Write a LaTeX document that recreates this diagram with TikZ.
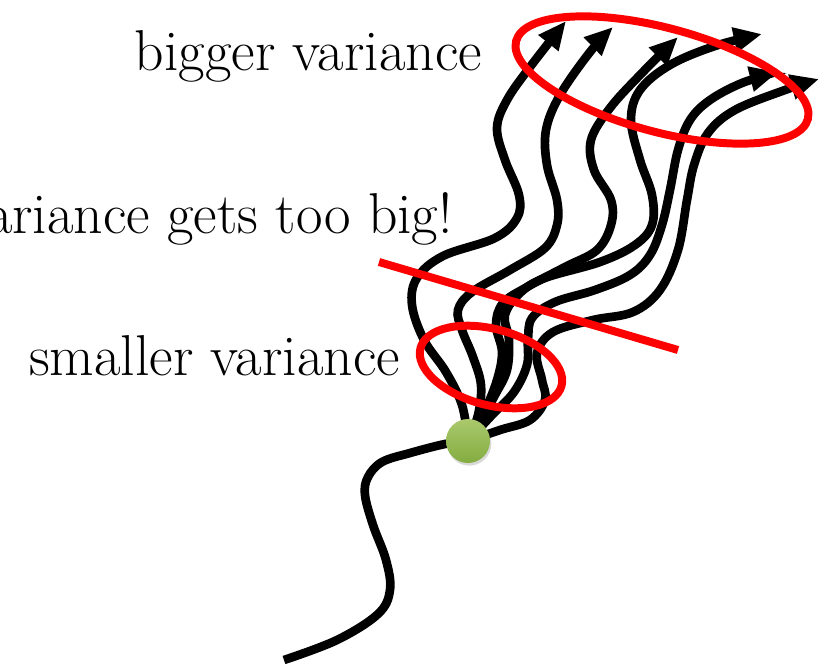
\documentclass[tikz,border=0pt]{standalone}
\usepackage{fontspec}
\usetikzlibrary{arrows.meta}
\usetikzlibrary{shadows}
\definecolor{dotlight}{RGB}{170,201,108}
\definecolor{dotdark}{RGB}{132,172,64}

\begin{document}
\begin{tikzpicture}[
    x=0.03cm, y=-0.03cm,
    traj/.style={line width=7.4pt, black, -{Triangle[length=0.85cm, width=0.72cm]}},
    tail/.style={line width=7.4pt, black},
    ring/.style={line width=6.8pt, red},
    lbl/.style={font=\fontsize{49.2}{59}\selectfont, anchor=base east, inner sep=0pt},
    startdot/.style={circle, minimum size=1.32cm, inner sep=0pt, top color=dotlight, bottom color=dotdark,
        drop shadow={shadow xshift=0.04cm, shadow yshift=-0.08cm, opacity=0.3}}
]
    \useasboundingbox (0,0) rectangle (833,667);

    % Points
    \coordinate (origin) at (468,441);
    \coordinate (past) at (284,660);
    \coordinate (tip1) at (566,21);
    \coordinate (tip2) at (613,27);
    \coordinate (tip3) at (678,37);
    \coordinate (tip4) at (762,34);
    \coordinate (tip5) at (778,72);
    \coordinate (tip6) at (819,79);

    % Trajectory so far
    \draw[tail] plot[smooth, tension=0.6] coordinates {(past) (337,640) (378,614) (390,590) (386,560) (373,525)
        (365,495) (368,477) (382,462) (410,453) (445,444) (origin)};

    % Sampled futures
    \draw[traj] plot[smooth, tension=0.6] coordinates {(origin) (462,405) (446,372) (424,340) (412,305) (417,278)
        (443,256) (495,238) (517,218) (519,195) (505,160) (497,128) (507,100) (530,67) (tip1)};
    \draw[traj] plot[smooth, tension=0.6] coordinates {(origin) (478,415) (481,385) (473,357) (462,330) (458,310)
        (472,292) (510,270) (545,248) (557,225) (557,200) (547,165) (546,130) (560,95) (590,52) (tip2)};
    \draw[traj] plot[smooth, tension=0.6] coordinates {(origin) (485,410) (497,380) (502,352) (496,325) (503,303)
        (527,287) (565,267) (597,250) (611,225) (611,200) (594,170) (591,140) (610,108) (640,75) (tip3)};
    \draw[traj] plot[smooth, tension=0.6] coordinates {(origin) (482,418) (495,395) (507,370) (509,340) (505,315)
        (520,293) (545,278) (600,262) (635,245) (652,225) (652,195) (640,160) (631,120) (640,90) (670,65) (715,46) (tip4)};
    \draw[traj] plot[smooth, tension=0.6] coordinates {(origin) (492,415) (514,392) (527,365) (528,340) (532,318)
        (555,302) (595,290) (630,275) (650,255) (662,225) (670,190) (678,150) (690,120) (710,100) (742,83) (tip5)};
    \draw[traj] plot[smooth, tension=0.6] coordinates {(origin) (500,430) (530,420) (545,400) (542,380) (537,353)
        (553,332) (593,320) (633,312) (660,290) (678,250) (687,200) (694,165) (708,133) (735,110) (785,90) (tip6)};

    % Variance marks
    \draw[ring, rotate around={-15:(491,367)}] (491,367) ellipse [x radius=2.19cm, y radius=1.14cm];
    \draw[ring, rotate around={-15:(662,80)}] (662,80) ellipse [x radius=4.53cm, y radius=1.56cm];
    \coordinate (cutL) at (379,262);
    \coordinate (cutR) at (678,350);
    \draw[ring] (cutL) -- (cutR);

    % Start point
    \node[startdot] (start) at (origin) {};

    % Labels
    \node[lbl] (bigger) at (482,70) {bigger variance};
    \node[lbl] (toobig) at (453,233) {variance gets too big!};
    \node[lbl] (smaller) at (400,375) {smaller variance};
\end{tikzpicture}
\end{document}
